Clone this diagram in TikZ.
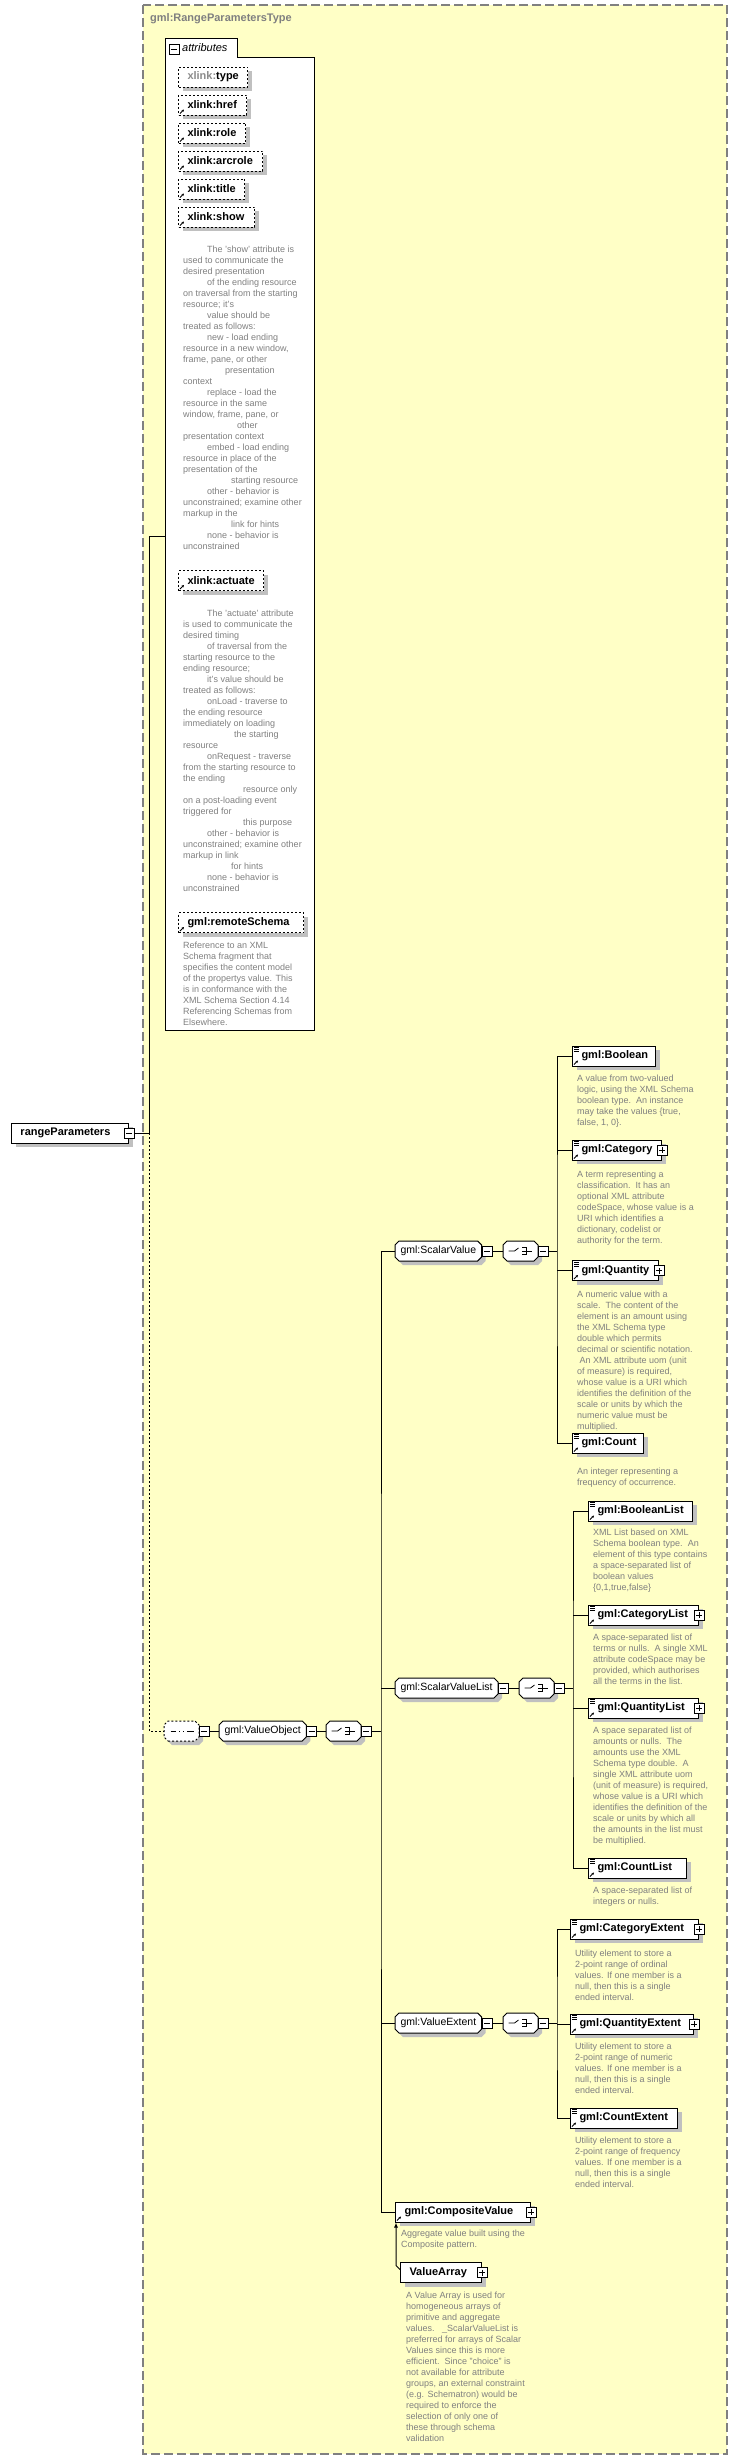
\documentclass[tikz,border=0pt]{standalone}
\usepackage{fontspec}
\setmainfont{Liberation Sans}
\usetikzlibrary{shadows,arrows.meta,positioning}

\definecolor{typebg}{RGB}{255,255,198}
\definecolor{framegray}{RGB}{128,128,128}
\definecolor{docgray}{RGB}{128,128,128}
\definecolor{shadegray}{RGB}{192,192,192}
\definecolor{xgray}{RGB}{140,140,140}

% box with cut corners for groups and compositors
\makeatletter
\pgfdeclareshape{cutbox}{%
  \inheritsavedanchors[from=rectangle]%
  \inheritanchorborder[from=rectangle]%
  \inheritanchor[from=rectangle]{center}%
  \inheritanchor[from=rectangle]{north}%
  \inheritanchor[from=rectangle]{south}%
  \inheritanchor[from=rectangle]{east}%
  \inheritanchor[from=rectangle]{west}%
  \inheritanchor[from=rectangle]{north east}%
  \inheritanchor[from=rectangle]{north west}%
  \inheritanchor[from=rectangle]{south east}%
  \inheritanchor[from=rectangle]{south west}%
  \backgroundpath{%
    \southwest \edef\cb@l{\the\pgf@x}\edef\cb@b{\the\pgf@y}%
    \northeast \edef\cb@r{\the\pgf@x}\edef\cb@t{\the\pgf@y}%
    \pgfpathmoveto{\pgfpoint{\cb@l+4pt}{\cb@b}}%
    \pgfpathlineto{\pgfpoint{\cb@r-4pt}{\cb@b}}%
    \pgfpathlineto{\pgfpoint{\cb@r}{\cb@b+4pt}}%
    \pgfpathlineto{\pgfpoint{\cb@r}{\cb@t-4pt}}%
    \pgfpathlineto{\pgfpoint{\cb@r-4pt}{\cb@t}}%
    \pgfpathlineto{\pgfpoint{\cb@l+4pt}{\cb@t}}%
    \pgfpathlineto{\pgfpoint{\cb@l}{\cb@t-4pt}}%
    \pgfpathlineto{\pgfpoint{\cb@l}{\cb@b+4pt}}%
    \pgfpathclose}%
}
\makeatother

\newcommand{\ind}[1]{\hspace*{#1pt}}
% small arrow in the lower left corner of a referenced element
\newcommand{\reflink}[1]{\draw[line width=0.8pt,-{Stealth[length=2.5pt,width=2.5pt]}] ([shift={(2pt,2pt)}]#1.south west) -- ++(4pt,4pt);}
% three short bars in the upper left corner
\newcommand{\simplecontent}[1]{\foreach \d in {2,4,6} \draw[line width=0.6pt] ([shift={(2pt,-\d pt)}]#1.north west) -- ++(5pt,0pt);}

\tikzset{
  shadebox/.style={drop shadow={shadow xshift=4pt,shadow yshift=-4pt,fill=shadegray,opacity=1}},
  elem/.style={draw,fill=white,line width=1pt,shadebox,anchor=west,minimum height=20pt,
    inner xsep=0pt,inner ysep=0pt,text width=#1,align=left,
    font=\bfseries\fontsize{11}{13}\selectfont,execute at begin node=\hspace*{9pt}},
  attr/.style={elem=#1,dash pattern=on 2pt off 2pt},
  grp/.style={cutbox,draw,fill=white,line width=1pt,shadebox,anchor=west,minimum height=19pt,
    inner xsep=5pt,inner ysep=0pt,font=\fontsize{10.5}{12}\selectfont},
  choicebox/.style={grp,minimum width=34pt,path picture={
    \begin{scope}[shift={(path picture bounding box.center)},x=1pt,y=1pt,line width=0.8pt,solid]
      \draw (-12,0) -- (-6,0) -- (-2,3);
      \foreach \v in {3.5,0,-3.5} {\fill (-0.5,\v-1) rectangle ++(2,2); \draw (1.5,\v) -- (6,\v);}
      \draw (6,3.5) -- (6,-3.5) (6,0) -- (11,0);
    \end{scope}}},
  seqbox/.style={grp,dash pattern=on 2pt off 2pt,minimum width=34pt,path picture={
    \begin{scope}[shift={(path picture bounding box.center)},x=1pt,y=1pt,line width=0.8pt,solid]
      \draw (-11,0) -- (12,0);
      \foreach \u in {-4,0,4} \fill (\u-1.3,-1.3) rectangle ++(2.6,2.6);
    \end{scope}}},
  minusbox/.style={draw,fill=white,line width=0.8pt,minimum size=10pt,inner sep=0pt,solid,
    path picture={\draw[line width=0.8pt,solid] ([xshift=2pt]path picture bounding box.west) -- ([xshift=-2pt]path picture bounding box.east);}},
  plusbox/.style={draw,fill=white,line width=0.8pt,minimum size=10pt,inner sep=0pt,
    path picture={\draw[line width=0.8pt,solid] ([xshift=2pt]path picture bounding box.west) -- ([xshift=-2pt]path picture bounding box.east)
      ([yshift=-2pt]path picture bounding box.north) -- ([yshift=2pt]path picture bounding box.south);}},
  doc/.style={anchor=north west,align=left,inner sep=0pt,text=docgray,font=\fontsize{9}{11}\selectfont},
  conn/.style={line width=1pt},
  typeframe/.style={fill=typebg,draw=framegray,line width=1.5pt,dash pattern=on 9pt off 4pt}
}

\begin{document}
\begin{tikzpicture}[x=1pt,y=-1pt]
\useasboundingbox (0,0) rectangle (737,2460);

% complex type
\draw[typeframe] (143,5) rectangle (727,2454);
\node[anchor=west,inner sep=0pt,text=framegray,font=\bfseries\fontsize{11}{13}\selectfont] (ttl) at (150,19) {gml:RangeParametersType};

% attributes
\draw[line width=1pt,fill=white] (165,1030) -- (165,38) -- (237,38) -- (237,57) -- (314,57) -- (314,1030) -- cycle;
\node[minusbox] (attr-m) at (174,49.5) {};
\node[anchor=west,inner sep=0pt,font=\itshape\fontsize{11}{13}\selectfont] (attr-t) at (182,48) {attributes};

\node[attr=69pt] (a-type) at (178,77) {{\color{xgray}xlink:}type};
\node[attr=68pt] (a-href) at (178,105) {xlink:href};
\node[attr=67pt] (a-role) at (178,133) {xlink:role};
\node[attr=84pt] (a-arcrole) at (178,161) {xlink:arcrole};
\node[attr=66pt] (a-title) at (178,189) {xlink:title};
\node[attr=76pt] (a-show) at (178,217) {xlink:show};
\node[doc] (d-show) at (183,245.4) {\ind{24}The 'show' attribute is\\
used to communicate the\\
desired presentation\\
\ind{24}of the ending resource\\
on traversal from the starting\\
resource; it's\\
\ind{24}value should be\\
treated as follows:\\
\ind{24}new - load ending\\
resource in a new window,\\
frame, pane, or other\\
\ind{42}presentation\\
context\\
\ind{24}replace - load the\\
resource in the same\\
window, frame, pane, or\\
\ind{54}other\\
presentation context\\
\ind{24}embed - load ending\\
resource in place of the\\
presentation of the\\
\ind{48}starting resource\\
\ind{24}other - behavior is\\
unconstrained; examine other\\
markup in the\\
\ind{48}link for hints\\
\ind{24}none - behavior is\\
unconstrained};

\node[attr=85pt] (a-actuate) at (178,580.5) {xlink:actuate};
\node[doc] (d-actuate) at (183,609.4) {\ind{24}The 'actuate' attribute\\
is used to communicate the\\
desired timing\\
\ind{24}of traversal from the\\
starting resource to the\\
ending resource;\\
\ind{24}it's value should be\\
treated as follows:\\
\ind{24}onLoad - traverse to\\
the ending resource\\
immediately on loading\\
\ind{51}the starting\\
resource\\
\ind{24}onRequest - traverse\\
from the starting resource to\\
the ending\\
\ind{60}resource only\\
on a post-loading event\\
triggered for\\
\ind{60}this purpose\\
\ind{24}other - behavior is\\
unconstrained; examine other\\
markup in link\\
\ind{48}for hints\\
\ind{24}none - behavior is\\
unconstrained};

\node[attr=125pt] (a-remote) at (178,922.5) {gml:remoteSchema};
\node[doc] (d-remote) at (183,941.4) {Reference to an XML\\
Schema fragment that\\
specifies the content model\\
of the propertys value. This\\
is in conformance with the\\
XML Schema Section 4.14\\
Referencing Schemas from\\
Elsewhere.};

% element
\node[elem=117pt] (rp) at (11,1133) {rangeParameters};
\node[minusbox] (rp-m) at (rp.east) {};
\coordinate (rp-j) at (149,1133);
\coordinate (attr-in) at (165,536);

% content model
\node[seqbox] (seq) at (164,1731) {};
\node[minusbox,anchor=west] (seq-m) at (seq.east) {};
\node[grp] (vo) at (219,1731) {gml:ValueObject};
\node[minusbox,anchor=west] (vo-m) at (vo.east) {};
\node[choicebox] (vo-c) at (326,1731) {};
\node[minusbox,anchor=west] (vo-cm) at (vo-c.east) {};
\coordinate (vo-j) at (381,1731);

% scalar values
\node[grp] (sv) at (395,1251) {gml:ScalarValue};
\node[minusbox,anchor=west] (sv-m) at (sv.east) {};
\node[choicebox] (sv-c) at (503,1251) {};
\node[minusbox,anchor=west] (sv-cm) at (sv-c.east) {};
\coordinate (sv-j) at (557,1251);

\node[elem=83pt] (bool) at (572,1056) {gml:Boolean};
\node[doc] (d-bool) at (577,1074.4) {A value from two-valued\\
logic, using the XML Schema\\
boolean type.\ \ An instance\\
may take the values \{true,\\
false, 1, 0\}.};
\node[elem=89pt] (cat) at (572,1150) {gml:Category};
\node[plusbox] (cat-p) at (cat.east) {};
\node[doc] (d-cat) at (577,1170.4) {A term representing a\\
classification.\ \ It has an\\
optional XML attribute\\
codeSpace, whose value is a\\
URI which identifies a\\
dictionary, codelist or\\
authority for the term.};
\node[elem=86pt] (qty) at (572,1270.5) {gml:Quantity};
\node[plusbox] (qty-p) at (qty.east) {};
\node[doc] (d-qty) at (577,1290.4) {A numeric value with a\\
scale.\ \ The content of the\\
element is an amount using\\
the XML Schema type\\
double which permits\\
decimal or scientific notation.\\
\ An XML attribute uom (unit\\
of measure) is required,\\
whose value is a URI which\\
identifies the definition of the\\
scale or units by which the\\
numeric value must be\\
multiplied.};
\node[elem=71pt] (cnt) at (572,1443) {gml:Count};
\node[doc] (d-cnt) at (577,1467.4) {An integer representing a\\
frequency of occurrence.};

% scalar value lists
\node[grp] (svl) at (395,1688) {gml:ScalarValueList};
\node[minusbox,anchor=west] (svl-m) at (svl.east) {};
\node[choicebox] (svl-c) at (519,1688) {};
\node[minusbox,anchor=west] (svl-cm) at (svl-c.east) {};
\coordinate (svl-j) at (573,1688);

\node[elem=104pt] (bl) at (588,1511) {gml:BooleanList};
\node[doc] (d-bl) at (593,1528.4) {XML List based on XML\\
Schema boolean type.\ \ An\\
element of this type contains\\
a space-separated list of\\
boolean values\\
\{0,1,true,false\}};
\node[elem=110pt] (cl) at (588,1615) {gml:CategoryList};
\node[plusbox] (cl-p) at (cl.east) {};
\node[doc] (d-cl) at (593,1633.4) {A space-separated list of\\
terms or nulls.\ \ A single XML\\
attribute codeSpace may be\\
provided, which authorises\\
all the terms in the list.};
\node[elem=110pt] (ql) at (588,1708) {gml:QuantityList};
\node[plusbox] (ql-p) at (ql.east) {};
\node[doc] (d-ql) at (593,1726.4) {A space separated list of\\
amounts or nulls.\ \ The\\
amounts use the XML\\
Schema type double.\ \ A\\
single XML attribute uom\\
(unit of measure) is required,\\
whose value is a URI which\\
identifies the definition of the\\
scale or units by which all\\
the amounts in the list must\\
be multiplied.};
\node[elem=98pt] (cnl) at (588,1868) {gml:CountList};
\node[doc] (d-cnl) at (593,1886.4) {A space-separated list of\\
integers or nulls.};

% extents
\node[grp] (ve) at (395,2023) {gml:ValueExtent};
\node[minusbox,anchor=west] (ve-m) at (ve.east) {};
\node[choicebox] (ve-c) at (503,2023) {};
\node[minusbox,anchor=west] (ve-cm) at (ve-c.east) {};
\coordinate (ve-j) at (557,2023);

\node[elem=128pt] (ce) at (570,1929) {gml:CategoryExtent};
\node[plusbox] (ce-p) at (ce.east) {};
\node[doc] (d-ce) at (575,1949.4) {Utility element to store a\\
2-point range of ordinal\\
values. If one member is a\\
null, then this is a single\\
ended interval.};
\node[elem=123pt] (qe) at (570,2024) {gml:QuantityExtent};
\node[plusbox] (qe-p) at (qe.east) {};
\node[doc] (d-qe) at (575,2042.4) {Utility element to store a\\
2-point range of numeric\\
values. If one member is a\\
null, then this is a single\\
ended interval.};
\node[elem=107pt] (cne) at (570,2118) {gml:CountExtent};
\node[doc] (d-cne) at (575,2136.4) {Utility element to store a\\
2-point range of frequency\\
values. If one member is a\\
null, then this is a single\\
ended interval.};

% composite
\node[elem=135pt] (cv) at (395,2212) {gml:CompositeValue};
\node[plusbox] (cv-p) at (cv.east) {};
\node[doc] (d-cv) at (401,2229.4) {Aggregate value built using the\\
Composite pattern.};
\node[elem=81pt] (va) at (400,2272.5) {ValueArray};
\node[plusbox] (va-p) at (va.east) {};
\node[doc] (d-va) at (406,2291.4) {A Value Array is used for\\
homogeneous arrays of\\
primitive and aggregate\\
values.\ \ \ \_ScalarValueList is\\
preferred for arrays of Scalar\\
Values since this is more\\
efficient.\ \ Since "choice" is\\
not available for attribute\\
groups, an external constraint\\
(e.g. Schematron) would be\\
required to enforce the\\
selection of only one of\\
these through schema\\
validation};

% icons
\foreach \n in {a-href,a-role,a-arcrole,a-title,a-show,a-actuate,a-remote,bool,cat,qty,cnt,bl,cl,ql,cnl,ce,qe,cne,cv}
  {\reflink{\n}}
\foreach \n in {bool,cat,qty,cnt,bl,cl,ql,cnl,ce,qe,cne}
  {\simplecontent{\n}}

% connectors
\draw[conn] (rp-m.east) -- (rp-j) |- (attr-in);
\draw[conn,dash pattern=on 2pt off 2pt] (rp-j) |- (seq.west);
\draw[conn] (seq-m.east) -- (vo.west);
\draw[conn] (vo-m.east) -- (vo-c.west);
\draw[conn] (vo-cm.east) -- (vo-j);
\draw[conn] (sv.west) -| (vo-j) |- (cv.west);
\draw[conn] (svl.west) -- (svl.west -| vo-j);
\draw[conn] (ve.west) -- (ve.west -| vo-j);

\draw[conn] (sv-m.east) -- (sv-c.west);
\draw[conn] (sv-cm.east) -- (sv-j);
\draw[conn] (bool.west) -| (sv-j) |- (cnt.west);
\draw[conn] (cat.west) -- (cat.west -| sv-j);
\draw[conn] (qty.west) -- (qty.west -| sv-j);

\draw[conn] (svl-m.east) -- (svl-c.west);
\draw[conn] (svl-cm.east) -- (svl-j);
\draw[conn] (bl.west) -| (svl-j) |- (cnl.west);
\draw[conn] (cl.west) -- (cl.west -| svl-j);
\draw[conn] (ql.west) -- (ql.west -| svl-j);

\draw[conn] (ve-m.east) -- (ve-c.west);
\draw[conn] (ve-cm.east) -- (ve-j);
\draw[conn] (ce.west) -| (ve-j) |- (cne.west);
\draw[conn] (qe.west) -- (qe.west -| ve-j);

\draw[conn,-{Latex[length=5pt,width=4pt]}] ([yshift=3pt]va.west) -- ++(-4pt,4pt) coordinate (va-k) -- (va-k |- cv.south);
\end{tikzpicture}
\end{document}
